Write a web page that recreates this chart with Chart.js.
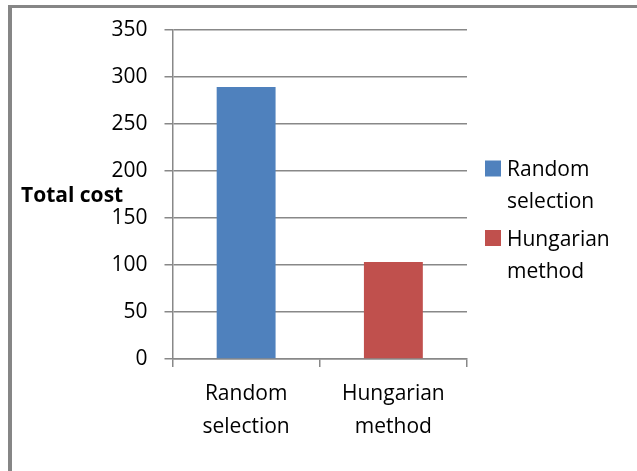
<!DOCTYPE html>
<html>
<head>
<meta charset="utf-8">
<script src="https://cdn.jsdelivr.net/npm/chart.js@4.4.1/dist/chart.umd.min.js"></script>
<style>
    body { margin: 0; background: #fff; }
    #wrap { position: relative; width: 637px; height: 471px; overflow: hidden; }
    #bar-total { position: absolute; left: 0; top: 0; }
    .edge { position: absolute; background: #868686; }
</style>
</head>
<body>
<div id="wrap">
    <canvas id="bar-total" width="637" height="471"></canvas>
    <div class="edge" style="left:8px; top:5px; width:629px; height:3px;"></div>
    <div class="edge" style="left:8px; top:5px; width:4px; height:466px;"></div>
</div>
<script>
// data
const categories = ['Random selection', 'Hungarian method'];
const totalCost = [289, 103];
const barColors = ['#4f81bd', '#c0504d'];
const yTicks = [0, 50, 100, 150, 200, 250, 300, 350];
const yTitle = 'Total cost';

const fontFamily = '"Open Sans", Lato, sans-serif';

// label sumbu y horizontal (gaya Excel)
const yTitlePlugin = {
    id: 'yTitle',
    afterDraw(chart) {
        const ctx = chart.ctx;
        const area = chart.chartArea;
        ctx.save();
        ctx.font = 'bold 21px ' + fontFamily;
        ctx.fillStyle = '#000';
        ctx.textAlign = 'left';
        ctx.textBaseline = 'middle';
        ctx.fillText(yTitle, 21, (area.top + area.bottom) / 2 + 2);
        ctx.restore();
    }
};

// legenda di kanan, teks dibungkus dua baris
const sideLegend = {
    id: 'sideLegend',
    afterDraw(chart) {
        const ctx = chart.ctx;
        const x = chart.chartArea.right + 18;
        const rows = [168.5, 238];
        ctx.save();
        ctx.font = '21px ' + fontFamily;
        ctx.textAlign = 'left';
        ctx.textBaseline = 'middle';
        categories.forEach((label, i) => {
            ctx.fillStyle = barColors[i];
            ctx.fillRect(x, rows[i] - 8, 16, 16);
            ctx.fillStyle = '#000';
            label.split(' ').forEach((word, j) => {
                ctx.fillText(word, x + 22, rows[i] + 2 + j * 32);
            });
        });
        ctx.restore();
    }
};

new Chart(document.getElementById('bar-total'), {
    type: 'bar',
    data: {
        labels: categories,
        datasets: [{
            label: yTitle,
            data: totalCost,
            backgroundColor: barColors,
            barPercentage: 0.4,
            categoryPercentage: 1
        }]
    },
    options: {
        responsive: false,
        animation: false,
        layout: { padding: { left: 0, right: 170, top: 27, bottom: 0 } },
        plugins: {
            legend: { display: false },
            tooltip: { enabled: false }
        },
        scales: {
            x: {
                grid: { display: true, drawOnChartArea: false, drawTicks: true, tickLength: 8, color: '#888', lineWidth: 1.5 },
                border: { color: '#888', width: 1.5 },
                ticks: {
                    color: '#000',
                    padding: 10,
                    font: { family: fontFamily, size: 21, lineHeight: 1.6 },
                    maxRotation: 0,
                    callback: function(value) {
                        return categories[value].split(' ');
                    }
                },
                afterFit: function(scale) { scale.height = 112; }
            },
            y: {
                min: 0,
                max: 350,
                afterBuildTicks: function(scale) {
                    scale.ticks = yTicks.map(v => ({ value: v }));
                },
                grid: { color: '#888', lineWidth: 1.5, tickLength: 8 },
                border: { color: '#888', width: 1.5 },
                ticks: {
                    color: '#000',
                    padding: 17,
                    font: { family: fontFamily, size: 21 }
                },
                afterFit: function(scale) { scale.width = 172.5; }
            }
        }
    },
    plugins: [yTitlePlugin, sideLegend]
});
</script>
</body>
</html>
